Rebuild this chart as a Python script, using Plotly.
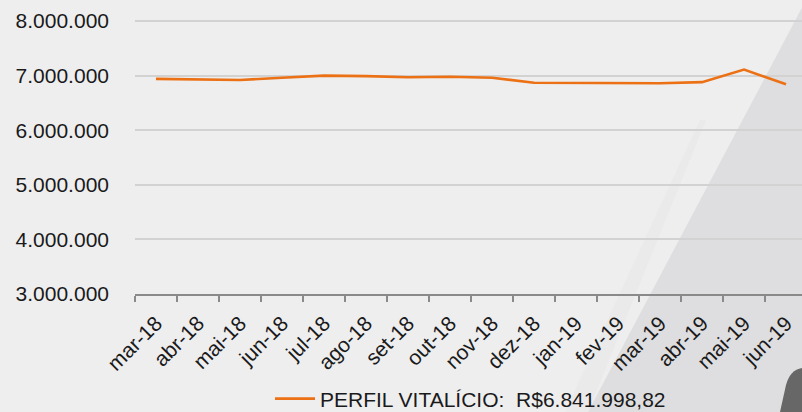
import plotly.graph_objects as go

months = ["mar-18", "abr-18", "mai-18", "jun-18", "jul-18", "ago-18", "set-18", "out-18",
          "nov-18", "dez-18", "jan-19", "fev-19", "mar-19", "abr-19", "mai-19", "jun-19"]
values = [6940000, 6930000, 6920000, 6960000, 7000000, 6990000, 6970000, 6980000,
          6960000, 6870000, 6870000, 6860000, 6860000, 6880000, 7110000, 6841998.82]
series_name = "PERFIL VITALÍCIO:  R$6.841.998,82"
y_ticks = [3000000, 4000000, 5000000, 6000000, 7000000, 8000000]

W, H = 802, 412
FONT = "Liberation Sans, Arial, sans-serif"
FS = 21

fig = go.Figure()
fig.add_trace(go.Scatter(
    x=months, y=values, mode="lines", name=series_name,
    line=dict(color="#EC7014", width=2.6),
))

def px(x):
    return x / W

def py(y):
    return 1 - y / H

# background decorations
shapes = [
    dict(type="path", xref="paper", yref="paper", layer="below",
         path=f"M {px(588)} {py(412)} L {px(806)} {py(0)} L {px(810)} {py(0)} L {px(810)} {py(412)} Z",
         fillcolor="#dedee0", line=dict(width=0)),
    dict(type="path", xref="paper", yref="paper", layer="below",
         path=f"M {px(565)} {py(412)} L {px(700)} {py(120)} L {px(706)} {py(120)} L {px(588)} {py(412)} Z",
         fillcolor="#eaeaeb", line=dict(width=0)),
    dict(type="path", xref="paper", yref="paper", layer="below",
         path=f"M {px(780)} {py(412)} L {px(786)} {py(385)} Q {px(790)} {py(370)} {px(802)} {py(368)} L {px(810)} {py(412)} Z",
         fillcolor="#676767", line=dict(width=0)),
]

fig.update_layout(
    width=W, height=H,
    margin=dict(l=0, r=0, t=0, b=0, autoexpand=False),
    paper_bgcolor="#eeeeef",
    plot_bgcolor="rgba(0,0,0,0)",
    separators=",.",
    font=dict(family=FONT, size=FS, color="#1a1a1a"),
    shapes=shapes,
    showlegend=True,
    legend=dict(x=px(270), xanchor="left", y=py(399), yanchor="middle",
                orientation="h", bgcolor="rgba(0,0,0,0)",
                font=dict(family=FONT, size=FS, color="#1a1a1a"),
                itemwidth=40),
    xaxis=dict(
        domain=[px(135), 1],
        type="category",
        range=[-0.5, 15.38],
        tickson="boundaries",
        ticks="outside", ticklen=6, tickcolor="#8a8a8a", tickwidth=1.5,
        showline=True, linecolor="#8a8a8a", linewidth=1.5,
        showgrid=False,
        tickangle=-45,
        ticklabelstandoff=7,
        tickfont=dict(family=FONT, size=FS, color="#1a1a1a"),
        automargin=False,
    ),
    yaxis=dict(
        domain=[py(294), 1],
        range=[3000000, 3000000 + 294 / 54.6 * 1000000],
        tickvals=y_ticks,
        tickformat=",d",
        showgrid=True, gridcolor="#d2d2d2", gridwidth=1.5,
        zeroline=False, showline=False,
        ticks="", ticklabelstandoff=25,
        tickfont=dict(family=FONT, size=FS, color="#1a1a1a"),
        automargin=False,
    ),
)

fig.write_html("out.html", config={"displayModeBar": False},
               post_script="document.body.style.margin='0';document.body.style.overflow='hidden';")
